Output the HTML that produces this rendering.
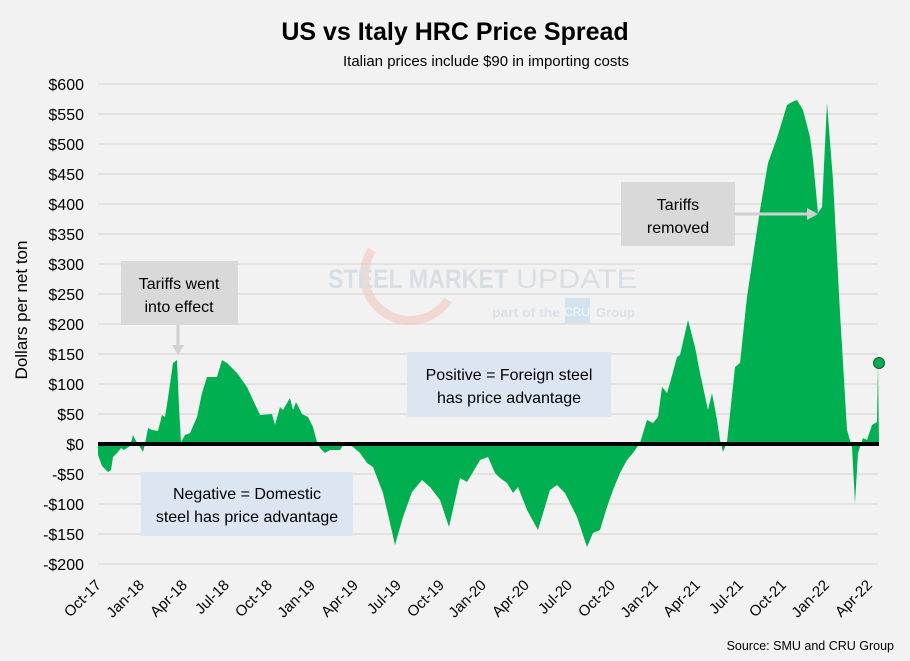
<!DOCTYPE html>
<html><head><meta charset="utf-8"><style>
body{margin:0;background:#f2f2f2;}
svg{display:block;font-family:"Liberation Sans",Calibri,sans-serif;}
</style></head><body>
<svg width="910" height="661" viewBox="0 0 910 661" xmlns="http://www.w3.org/2000/svg">
<rect width="910" height="661" fill="#f2f2f2"/>
<text x="455" y="40" text-anchor="middle" font-size="25" font-weight="bold" fill="#000">US vs Italy HRC Price Spread</text>
<text x="486" y="66" text-anchor="middle" font-size="15" fill="#000">Italian prices include $90 in importing costs</text>
<g stroke="#d9d9d9" stroke-width="1.2">
<line x1="98" x2="878" y1="84" y2="84"/><line x1="98" x2="878" y1="114" y2="114"/><line x1="98" x2="878" y1="144" y2="144"/><line x1="98" x2="878" y1="174" y2="174"/><line x1="98" x2="878" y1="204" y2="204"/><line x1="98" x2="878" y1="234" y2="234"/><line x1="98" x2="878" y1="264" y2="264"/><line x1="98" x2="878" y1="294" y2="294"/><line x1="98" x2="878" y1="324" y2="324"/><line x1="98" x2="878" y1="354" y2="354"/><line x1="98" x2="878" y1="384" y2="384"/><line x1="98" x2="878" y1="414" y2="414"/><line x1="98" x2="878" y1="474" y2="474"/><line x1="98" x2="878" y1="504" y2="504"/><line x1="98" x2="878" y1="534" y2="534"/><line x1="98" x2="878" y1="564" y2="564"/>
</g>
<g font-size="16" text-anchor="end" fill="#000">
<text x="84" y="90">$600</text><text x="84" y="120">$550</text><text x="84" y="150">$500</text><text x="84" y="180">$450</text><text x="84" y="210">$400</text><text x="84" y="240">$350</text><text x="84" y="270">$300</text><text x="84" y="300">$250</text><text x="84" y="330">$200</text><text x="84" y="360">$150</text><text x="84" y="390">$100</text><text x="84" y="420">$50</text><text x="84" y="450">$0</text><text x="84" y="480">-$50</text><text x="84" y="510">-$100</text><text x="84" y="540">-$150</text><text x="84" y="570">-$200</text>
</g>
<text transform="translate(27,310) rotate(-90)" text-anchor="middle" font-size="17" fill="#000">Dollars per net ton</text>
<g opacity="0.55">
<path d="M372,250 A45,45 0 1,0 448,300" fill="none" stroke="#f2c4b8" stroke-width="9"/>
<text x="328" y="288" font-size="27" font-weight="bold" fill="#c5cedb" textLength="180" lengthAdjust="spacingAndGlyphs">STEEL MARKET</text>
<text x="516" y="288" font-size="27" fill="#c5cedb" textLength="121" lengthAdjust="spacingAndGlyphs">UPDATE</text>
<text x="492" y="317" font-size="13" font-weight="bold" fill="#c5d4e6" textLength="68" lengthAdjust="spacingAndGlyphs">part of the</text>
<rect x="565" y="298" width="25" height="25" fill="#b8d8ea"/>
<text x="577" y="316" text-anchor="middle" font-size="12" fill="#fff">CRU</text>
<text x="596" y="317" font-size="13" font-weight="bold" fill="#c5d4e6">Group</text>
</g>
<polygon fill="#00b050" points="98,444 98,455 102,466 108,472 111,470 113,457 118,452 121,448 124,450 130,446 133,435 136,441 140,447 143,452 145,444 148,428 152,430 158,431 162,415 165,417 168,398 173,363 177,360 179,407 181,442 185,435 190,433 197,417 202,393 207,377 217,377 222,360 227,363 237,373 247,387 253,400 260,415 272,414 275,425 280,407 283,410 290,398 293,410 296,402 302,414 308,417 313,427 317,442 320,448 325,453 330,450 340,450 345,442 353,447 360,453 367,463 373,467 383,493 390,523 395,545 403,517 412,492 422,480 430,487 440,500 449,527 460,478 467,482 473,472 480,460 488,457 495,473 500,478 507,483 513,493 518,487 527,510 538,530 550,490 557,485 565,493 577,517 587,547 593,533 600,530 607,507 613,490 620,473 627,460 633,453 640,443 647,420 653,423 658,417 662,387 667,393 670,383 677,357 680,355 688,320 695,347 700,373 708,410 712,393 717,420 720,440 723,452 727,442 735,367 740,363 747,297 755,243 760,210 768,163 777,138 787,105 792,102 797,100 803,110 810,137 813,160 818,213 822,207 827,103 833,180 840,313 847,430 852,447 855,503 858,453 863,438 867,440 872,425 877,422 878,363 879,444"/>
<line x1="98" x2="879" y1="444" y2="444" stroke="#000" stroke-width="4"/>
<circle cx="879" cy="363" r="5.5" fill="#00b050" stroke="#1a5a2a" stroke-width="1"/>
<rect x="121" y="261" width="117" height="64" fill="#d9d9d9"/>
<text x="179" y="289" text-anchor="middle" font-size="16">Tariffs went</text>
<text x="179" y="312" text-anchor="middle" font-size="16">into effect</text>
<line x1="178" y1="325" x2="178" y2="346" stroke="#d0d0d0" stroke-width="3"/>
<polygon points="172,345 184,345 178,355" fill="#d0d0d0"/>
<rect x="621" y="182" width="114" height="64" fill="#d9d9d9"/>
<text x="678" y="210" text-anchor="middle" font-size="16">Tariffs</text>
<text x="678" y="233" text-anchor="middle" font-size="16">removed</text>
<line x1="735" y1="214" x2="808" y2="214" stroke="#d0d0d0" stroke-width="3"/>
<polygon points="807,208 807,220 818,214" fill="#d0d0d0"/>
<rect x="407" y="352" width="204" height="65" fill="#dce6f2"/>
<text x="509" y="380" text-anchor="middle" font-size="16">Positive = Foreign steel</text>
<text x="509" y="403" text-anchor="middle" font-size="16">has price advantage</text>
<rect x="141" y="472" width="212" height="64" fill="#dce6f2"/>
<text x="247" y="499" text-anchor="middle" font-size="16">Negative = Domestic</text>
<text x="247" y="522" text-anchor="middle" font-size="16">steel has price advantage</text>
<g font-size="15" text-anchor="end" fill="#000">
<text transform="translate(102,586) rotate(-45)">Oct-17</text>
<text transform="translate(145,586) rotate(-45)">Jan-18</text>
<text transform="translate(188,586) rotate(-45)">Apr-18</text>
<text transform="translate(230,586) rotate(-45)">Jul-18</text>
<text transform="translate(273,586) rotate(-45)">Oct-18</text>
<text transform="translate(316,586) rotate(-45)">Jan-19</text>
<text transform="translate(359,586) rotate(-45)">Apr-19</text>
<text transform="translate(402,586) rotate(-45)">Jul-19</text>
<text transform="translate(445,586) rotate(-45)">Oct-19</text>
<text transform="translate(487,586) rotate(-45)">Jan-20</text>
<text transform="translate(530,586) rotate(-45)">Apr-20</text>
<text transform="translate(573,586) rotate(-45)">Jul-20</text>
<text transform="translate(616,586) rotate(-45)">Oct-20</text>
<text transform="translate(659,586) rotate(-45)">Jan-21</text>
<text transform="translate(701,586) rotate(-45)">Apr-21</text>
<text transform="translate(744,586) rotate(-45)">Jul-21</text>
<text transform="translate(787,586) rotate(-45)">Oct-21</text>
<text transform="translate(830,586) rotate(-45)">Jan-22</text>
<text transform="translate(873,586) rotate(-45)">Apr-22</text>
</g>
<text x="894" y="650" text-anchor="end" font-size="12.5">Source: SMU and CRU Group</text>
</svg>
</body></html>
